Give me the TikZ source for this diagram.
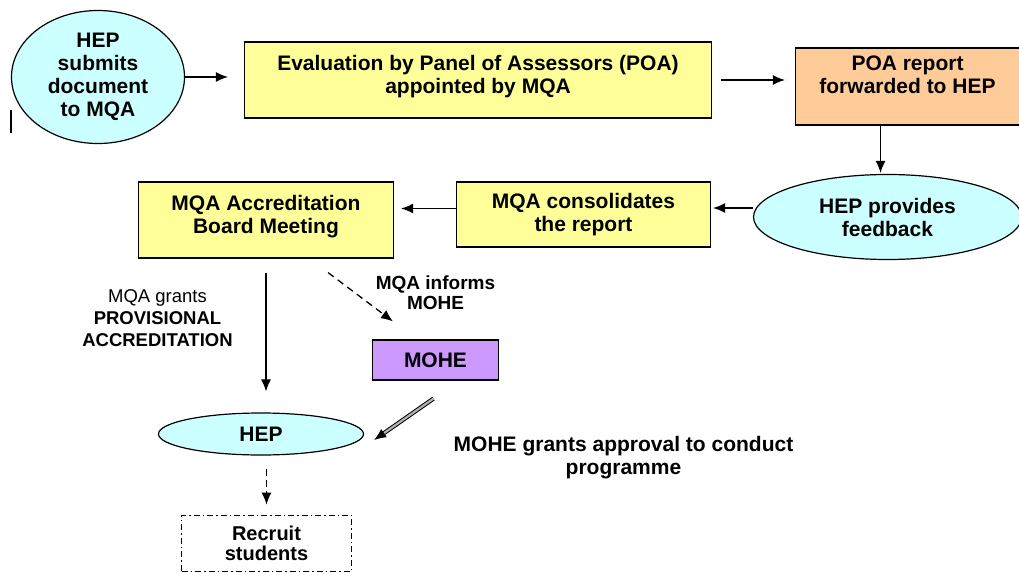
\documentclass[tikz,border=0pt]{standalone}
\usepackage{fontspec}
\setmainfont{Liberation Sans}
\usepackage{tikz}
\usetikzlibrary{shapes.geometric, arrows.meta, positioning}
\definecolor{lilac}{RGB}{204,153,255}
\definecolor{palecyan}{RGB}{204,255,255}
\definecolor{paleyellow}{RGB}{255,255,153}
\definecolor{peach}{RGB}{255,204,153}

\begin{document}
\begin{tikzpicture}[x=1pt,y=-1pt,on grid,
      font=\fontsize{21}{23}\selectfont\bfseries,
      >={Latex[length=12pt,width=10pt]},
      every edge/.append style={line width=1.3pt},
      oval/.style={ellipse,draw,line width=1.2pt,fill=palecyan,inner sep=0pt,align=center},
      stage/.style={rectangle,draw,line width=1.2pt,fill=paleyellow,inner sep=0pt,align=center},
      dashdot/.style={dash pattern=on 6pt off 3pt on 1.5pt off 3pt}]
      \useasboundingbox (0,0) rectangle (1019,572);

      \node[oval,minimum width=173pt,minimum height=133pt] (hep_1) at (98,77) {HEP\\submits\\document\\to MQA};
      \node[stage,minimum width=467pt,minimum height=76pt,text depth=11pt] (poa_1) [below right=3pt and 380pt of hep_1] {Evaluation by Panel of Assessors (POA)\\appointed by MQA};
      \node[stage,fill=peach,minimum width=224pt,minimum height=77pt,text depth=24pt] (poa_2) [below right=6.5pt and 429.5pt of poa_1] {POA report\\forwarded to HEP};
      \node[oval,minimum width=268pt,minimum height=85pt] (hep_2) [below left=130.5pt and 20pt of poa_2] {HEP provides\\feedback};
      \node[stage,minimum width=254pt,minimum height=65pt] (mqa_1) [above left=2.5pt and 304pt of hep_2] {MQA consolidates\\the report};
      \node[stage,minimum width=255pt,minimum height=76pt,text depth=12pt] (mqa_2) [below left=5.5pt and 317.5pt of mqa_1] {MQA Accreditation\\Board Meeting};
      \node[oval,minimum width=205pt,minimum height=42pt] (hep_3) [below left=214pt and 5pt of mqa_2] {HEP};
      \node[stage,fill=lilac,minimum width=126pt,minimum height=40pt] (mohe_1) [above right=74pt and 174.5pt of hep_3] {MOHE};
      \node[stage,fill=none,dashdot,line width=0.8pt,minimum width=170pt,minimum height=56pt,font=\fontsize{20}{20}\selectfont\bfseries] (rec_1) [below right=109pt and 5.5pt of hep_3] {Recruit\\students};

      % texts beside the arrows
      \node[align=center,font=\fontsize{18.5}{22}\selectfont] (lab_1) [below left=98pt and 108.5pt of mqa_2] {MQA grants\\\textbf{PROVISIONAL}\\\textbf{ACCREDITATION}};
      \node[align=center,font=\fontsize{19}{20}\selectfont\bfseries] (lab_2) [above=67pt of mohe_1] {MQA informs\\MOHE};
      \node[align=center] (lab_3) [below right=98pt and 188pt of mohe_1] {MOHE grants approval to conduct\\programme};

      \coordinate (inf_a) at ([shift={(-66,14)}]mqa_2.south east);
      \coordinate (inf_b) at ([shift={(21,-18)}]mohe_1.north west);
      \coordinate (app_a) at ([shift={(-2,18)}]mohe_1.south);
      \coordinate (app_b) at ([shift={(10,6)}]hep_3.east);

      \path[->] (hep_1.east) edge[shorten >=16pt] (hep_1.east -| poa_1.west)
            (poa_1.east) edge[shorten <=9pt,shorten >=10pt] (poa_1.east -| poa_2.west)
            ([xshift=-27pt]poa_2.south) edge[shorten >=1pt] ([xshift=-27pt]poa_2.south |- hep_2.north);
      \path[->] ([yshift=9pt]hep_2.west) edge[shorten >=2pt] ([yshift=9pt]hep_2.west -| mqa_1.east)
            ([yshift=6pt]mqa_1.west) edge[shorten >=7pt] ([yshift=6pt]mqa_1.west -| mqa_2.east);
      \path[->] (mqa_2.south) edge[shorten <=14pt,shorten >=21pt] (mqa_2.south |- hep_3.north)
            (inf_a) edge[dash pattern=on 7pt off 5pt] (inf_b)
            (app_a) edge[double=gray!60,double distance=2.2pt,line width=1pt] (app_b)
            (rec_1.north |- hep_3.south) edge[dash pattern=on 7pt off 4pt,shorten <=13pt,shorten >=10pt] (rec_1.north);

      \draw[line width=2.5pt] (11,110) -- (11,133);
    \end{tikzpicture}
\end{document}
